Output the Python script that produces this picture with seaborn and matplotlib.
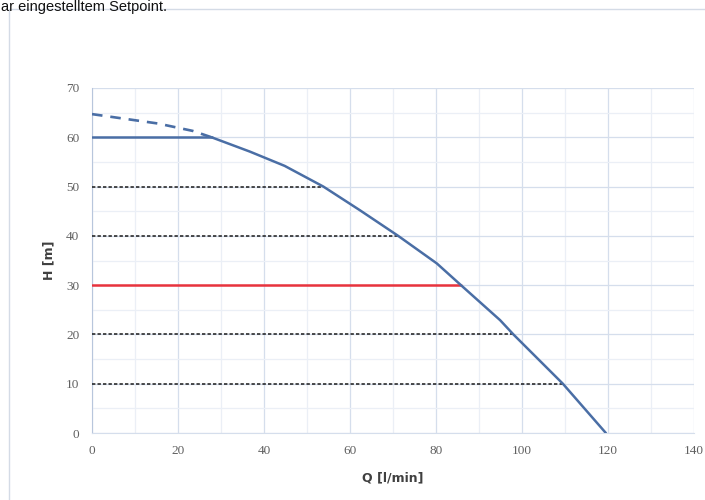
import pandas as pd
import matplotlib.pyplot as plt
import matplotlib.patches as mpatches
import seaborn as sns

# Pump curve
curve_q = [27.8, 36.7, 44.8, 53.8, 62.3, 71.2, 80.2, 85.8, 94.9, 98.0, 109.5, 119.5]
curve_h = [60.0, 57.1, 54.2, 50.0, 45.2, 40.0, 34.4, 30.0, 22.9, 20.0, 10.0, 0.0]

# Dashed part above the limit
dash_q = [0.0, 15.3, 23.4, 27.8]
dash_h = [64.7, 62.8, 61.3, 60.0]

# Limited part at 60 m
limit_q = [0.0, 27.8]
limit_h = [60.0, 60.0]

# Setpoint lines
setpoints = [50, 40, 20, 10]
setpoint_q = [53.8, 71.2, 98.0, 109.5]
active_h = 30
active_q = 85.8

x_ticks = [0, 20, 40, 60, 80, 100, 120, 140]
y_ticks = [0, 10, 20, 30, 40, 50, 60, 70]

blue = '#4a6ea5'
grid_major = '#d5deec'
grid_minor = '#ebeff6'

sns.set_style('white')
plt.rcParams['font.family'] = ['DejaVu Sans']

fig = plt.figure(figsize=(7.05, 5.0), dpi=100)
ax = fig.add_axes([92 / 705, 67 / 500, 602 / 705, 345 / 500])

# panel frame of the screenshot
fig.patches.append(mpatches.Rectangle((9 / 705, -0.01), 1.0, (500 - 9) / 500 + 0.01,
                                      transform=fig.transFigure, fill=False,
                                      edgecolor='#d4dbe6', linewidth=1.0))
fig.text(0.002, 0.999, 'ar eingestelltem Setpoint.', ha='left', va='top',
         fontsize=10.5, family='Liberation Sans', color='#111111')

# grid
ax.set_xticks(range(0, 141, 10), minor=True)
ax.set_yticks(range(0, 71, 5), minor=True)
ax.grid(which='minor', color=grid_minor, linewidth=0.9)
ax.grid(which='major', color=grid_major, linewidth=0.9)
ax.set_axisbelow(True)

# setpoint lines
for h, q in zip(setpoints, setpoint_q):
    sns.lineplot(x=[0, q], y=[h, h], ax=ax, color='#1a1a1a', linestyle=(0, (2.2, 1.4)),
                 linewidth=1.1, zorder=3)
sns.lineplot(x=[0, active_q], y=[active_h, active_h], ax=ax, color='#e8333d',
             linewidth=1.8, zorder=3)

# curve
sns.lineplot(x=limit_q, y=limit_h, ax=ax, color=blue, linewidth=1.8, zorder=4)
sns.lineplot(x=dash_q, y=dash_h, ax=ax, color=blue, linewidth=1.9,
             linestyle=(0, (4, 3)), zorder=4)
sns.lineplot(x=curve_q, y=curve_h, ax=ax, color=blue, linewidth=1.8, zorder=4, sort=False)

ax.set_xlim(0, 140)
ax.set_ylim(0, 70)
ax.set_xticks(x_ticks)
ax.set_yticks(y_ticks)
ax.tick_params(which='both', length=0, labelsize=9.5, labelcolor='#606060', pad=9)
for lab in ax.get_xticklabels() + ax.get_yticklabels():
    lab.set_family('Liberation Serif')

ax.set_xlabel('Q [l/min]', fontsize=9, fontweight='bold', color='#404040', labelpad=10)
ax.set_ylabel('H [m]', fontsize=9, fontweight='bold', color='#404040', labelpad=8)

for side in ['top', 'right']:
    ax.spines[side].set_visible(False)
ax.spines['left'].set_color('#b8c6dc')
ax.spines['bottom'].set_color('#d5deec')

plt.savefig('out.png', dpi=100)
